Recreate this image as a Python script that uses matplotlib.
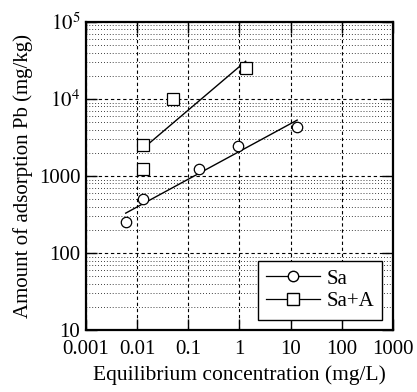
import matplotlib
matplotlib.use("Agg")
import matplotlib.pyplot as plt
import numpy as np

plt.rcParams['font.family'] = 'Liberation Serif'
plt.rcParams['mathtext.fontset'] = 'stix'

# Sa (circles)
sa_x = [0.006, 0.013, 0.16, 0.93, 13.5]
sa_y = [250, 500, 1250, 2450, 4350]
# Sa+A (squares)
saa_x = [0.013, 0.013, 0.05, 1.33]
saa_y = [2500, 1230, 10000, 25000]

x_ticks = [0.001, 0.01, 0.1, 1, 10, 100, 1000]
x_labels = ['0.001', '0.01', '0.1', '1', '10', '100', '1000']
y_ticks = [10, 100, 1000, 1e4, 1e5]
y_labels = ['10', '100', '1000', r'$10^4$', r'$10^5$']


def fit_line(x, y):
    # power law fit in log-log space, drawn over the data range
    lx, ly = np.log10(x), np.log10(y)
    k, b = np.polyfit(lx, ly, 1)
    xs = np.array([min(x), max(x)])
    return xs, 10 ** (k * np.log10(xs) + b)


fig = plt.figure(figsize=(4.17, 3.92), dpi=100)
ax = fig.add_axes([0.206, 0.158, 0.736, 0.786])

ax.set_xscale('log')
ax.set_yscale('log')
ax.set_xlim(0.001, 1000)
ax.set_ylim(10, 1e5)

ax.xaxis.set_minor_locator(matplotlib.ticker.LogLocator(subs=np.arange(2, 10)))
ax.yaxis.set_minor_locator(matplotlib.ticker.LogLocator(subs=np.arange(2, 10)))
ax.grid(True, which='major', color='black', linestyle=(0, (3, 2.5)), linewidth=0.8)
ax.grid(True, which='minor', color='black', linestyle=(0, (1, 2.5)), linewidth=0.6)

fx, fy = fit_line(sa_x, sa_y)
ax.plot(fx, fy, color='black', linewidth=1.0)
fx, fy = fit_line(saa_x, saa_y)
ax.plot(fx, fy, color='black', linewidth=1.0)

ax.plot(sa_x, sa_y, 'o', mfc='white', mec='black', ms=7.5, mew=0.9)
ax.plot(saa_x, saa_y, 's', mfc='white', mec='black', ms=8, mew=0.9)

# legend handles
ax.plot([], [], '-o', color='black', mfc='white', ms=7.5, lw=0.9, label='Sa')
ax.plot([], [], '-s', color='black', mfc='white', ms=8, lw=0.9, label='Sa+A')
leg = ax.legend(loc='lower right', fontsize=15, fancybox=False, framealpha=1,
                edgecolor='black', handlelength=2.6, handletextpad=0.3,
                labelspacing=0.15, borderpad=0.4, borderaxespad=0.5)
leg.get_frame().set_linewidth(1.0)

ax.set_xticks(x_ticks)
ax.set_xticklabels(x_labels)
ax.set_yticks(y_ticks)
ax.set_yticklabels(y_labels)
ax.tick_params(which='minor', length=0)
ax.tick_params(which='major', direction='in', length=8, width=1, top=True, right=True,
               labelsize=15)
ax.tick_params(axis='y', pad=4)
ax.tick_params(axis='x', pad=7)

for s in ax.spines.values():
    s.set_linewidth(1.6)

ax.set_xlabel('Equilibrium concentration (mg/L)', fontsize=15.5, labelpad=5)
ax.set_ylabel('Amount of adsorption Pb (mg/kg)', fontsize=15, labelpad=4)

fig.savefig('out.png', dpi=100)
